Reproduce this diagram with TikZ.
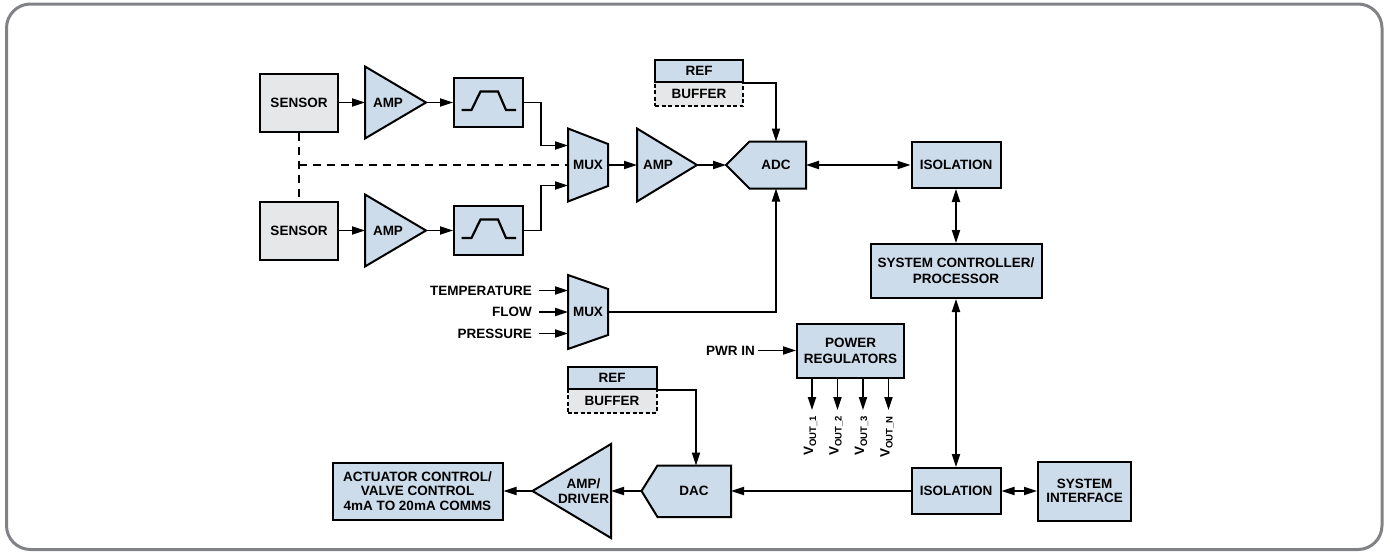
\documentclass[tikz,border=0pt]{standalone}
\usepackage{fontspec}
\setmainfont{Liberation Sans}
\usetikzlibrary{arrows.meta}
\definecolor{blkblue}{RGB}{204,220,234}
\definecolor{blkgrey}{RGB}{230,231,232}
\definecolor{framegrey}{RGB}{128,130,133}

\begin{document}
\begin{tikzpicture}[x=1pt, y=-1pt,
  box/.style={draw, line width=2pt, fill=blkblue, inner sep=0pt, align=center,
    font=\fontsize{13.5}{15.8}\selectfont\bfseries},
  sensorbox/.style={box, fill=blkgrey, minimum width=78pt, minimum height=58pt},
  bufbox/.style={box, fill=blkgrey, dash pattern=on 4pt off 2.5pt},
  shp/.style={draw, line width=2pt, fill=blkblue},
  lbl/.style={inner sep=0pt, align=center, font=\fontsize{13.5}{14.4}\selectfont\bfseries},
  arr/.style={line width=1.8pt, -{Triangle[length=13pt,width=8pt]}},
  biarr/.style={line width=1.8pt, {Triangle[length=13pt,width=8pt]}-{Triangle[length=13pt,width=8pt]}},
  sigdash/.style={line width=1.8pt, dash pattern=on 8pt off 6pt}]

  \useasboundingbox (0,0) rectangle (1393,552);
  \draw[framegrey, line width=3pt, rounded corners=24pt] (6.5,4) rectangle (1382,549.5);

  % two sensor channels
  \foreach \y [count = \n] in {102.5, 230.5}{
    \node[sensorbox] (sensor\n) at (299,\y) {SENSOR};
    \draw[shp] (365,\y-36) -- (426,\y) coordinate (amp\n-out) -- (365,\y+36) -- cycle;
    \coordinate (amp\n-in) at (365,\y);
    \node[lbl] (amp\n) at (388,\y) {AMP};
    \node[box, minimum width=69pt, minimum height=49pt] (filter\n) at (488.5,\y) {};
    \draw[line width=2.2pt] (461.5,\y+7.5) -- (471.5,\y+7.5) -- (480.5,\y-11)
      -- (498,\y-11) -- (506,\y+7.5) -- (516,\y+7.5);
    \draw[arr] (sensor\n) -- (amp\n-in);
    \draw[arr] (amp\n-out) -- (filter\n);
  }

  % input mux, amp, adc
  \draw[shp] (568,128.5) -- (608,144) -- (608,186) -- (568,201.5) -- cycle;
  \coordinate (muxA-in1) at (568,145.5);
  \coordinate (muxA-in2) at (568,185.5);
  \coordinate (muxA-mid) at (568,165);
  \coordinate (muxA-out) at (608,165);
  \node[lbl] (muxA) at (588,165) {MUX};

  \draw[shp] (637,128.5) -- (697,165) -- (637,201.5) -- cycle;
  \coordinate (ampC-in) at (637,165);
  \coordinate (ampC-out) at (697,165);
  \node[lbl] (ampC) at (658,165) {AMP};

  \draw[shp] (726,165) -- (749.5,141.5) -- (806,141.5) -- (806,188.5) -- (749.5,188.5) -- cycle;
  \coordinate (adc-in) at (726,165);
  \coordinate (adc-top) at (776,141.5);
  \coordinate (adc-bot) at (776,188.5);
  \coordinate (adc-out) at (806,165);
  \node[lbl] (adc) at (776,165) {ADC};

  \node[bufbox, minimum width=88pt, minimum height=24pt] (bufA) at (699,94) {BUFFER};
  \node[box, minimum width=88pt, minimum height=22pt] (refA) at (699,71) {REF};

  \draw[arr] (filter1.east) -- ++(17,0) |- (muxA-in1);
  \draw[arr] (filter2.east) -- ++(17,0) |- (muxA-in2);
  \draw[sigdash] (sensor1) -- (sensor2);
  \draw[sigdash] (sensor1 |- muxA-mid) -- (muxA-mid);
  \draw[arr] (muxA-out) -- (ampC-in);
  \draw[arr] (ampC-out) -- (adc-in);
  \draw[arr] (refA.south east) -| (adc-top);

  % aux mux
  \draw[shp] (568,275) -- (608,289) -- (608,335) -- (568,349) -- cycle;
  \coordinate (muxB-out) at (608,312);
  \node[lbl] (muxB) at (588,312) {MUX};
  \foreach \txt/\y [count = \n] in {TEMPERATURE/290.5, FLOW/312, PRESSURE/333.5}{
    \node[lbl, anchor=east] (in\n) at (532,\y) {\txt};
    \coordinate (muxB-in\n) at (568,\y);
    \draw[arr] ([xshift=7pt]in\n.east) -- (muxB-in\n);
  }
  \draw[arr] (muxB-out) -| (adc-bot);

  % controller side
  \node[box, minimum width=89pt, minimum height=46pt] (isoA) at (956,165) {ISOLATION};
  \node[box, minimum width=171pt, minimum height=54pt] (ctrl) at (956,271)
    {SYSTEM CONTROLLER/\\PROCESSOR};
  \node[box, minimum width=89pt, minimum height=46pt] (isoB) at (956,491) {ISOLATION};
  \node[box, minimum width=93pt, minimum height=59pt, font=\fontsize{13.5}{14.6}\selectfont\bfseries]
    (sysif) at (1084.5,491) {SYSTEM\\INTERFACE};
  \draw[biarr] (adc-out) -- (isoA);
  \draw[biarr] (isoA) -- (ctrl);
  \draw[biarr] (ctrl) -- (isoB);
  \draw[biarr] (isoB) -- (sysif);

  % power
  \node[box, minimum width=107pt, minimum height=54pt] (pwr) at (850.5,350.5) {POWER\\REGULATORS};
  \node[lbl, anchor=east] (pwrin) at (755,350.5) {PWR IN};
  \draw[arr] ([xshift=3pt]pwrin.east) -- (pwr);
  \foreach \sub [count = \n, evaluate = \n as \xpos using {812+25.5*(\n-1)}] in {1,2,3,N}{
    \coordinate (vout\n) at (\xpos,410);
    \draw[arr] (pwr.south -| vout\n) -- (vout\n);
    \node[lbl, rotate=90, anchor=east] (vout\n-lbl) at (\xpos-1.5,416)
      {V\raisebox{-3pt}{\fontsize{9.5}{9.5}\selectfont OUT\_\sub}};
  }

  % output side
  \draw[shp] (641.5,491) -- (657.5,465.5) -- (731,465.5) -- (731,517) -- (657.5,517) -- cycle;
  \coordinate (dac-in) at (731,491);
  \coordinate (dac-top) at (696,465.5);
  \coordinate (dac-out) at (641.5,491);
  \node[lbl] (dac) at (694,491) {DAC};

  \node[bufbox, minimum width=89pt, minimum height=24pt] (bufB) at (612,401) {BUFFER};
  \node[box, minimum width=89pt, minimum height=22pt] (refB) at (612,378) {REF};

  \draw[shp] (611,444) -- (611,538) -- (532.5,491) -- cycle;
  \coordinate (drv-in) at (611,491);
  \coordinate (drv-out) at (532.5,491);
  \node[lbl] (drv) at (583.5,491) {AMP/\\DRIVER};

  \node[box, minimum width=170pt, minimum height=57pt, font=\fontsize{13.5}{14.2}\selectfont\bfseries]
    (act) at (417.5,491) {ACTUATOR CONTROL/\\VALVE CONTROL\\4mA TO 20mA COMMS};

  \draw[arr] (isoB) -- (dac-in);
  \draw[arr] (refB.south east) -| (dac-top);
  \draw[arr] (dac-out) -- (drv-in);
  \draw[arr] (drv-out) -- (act);
\end{tikzpicture}
\end{document}
